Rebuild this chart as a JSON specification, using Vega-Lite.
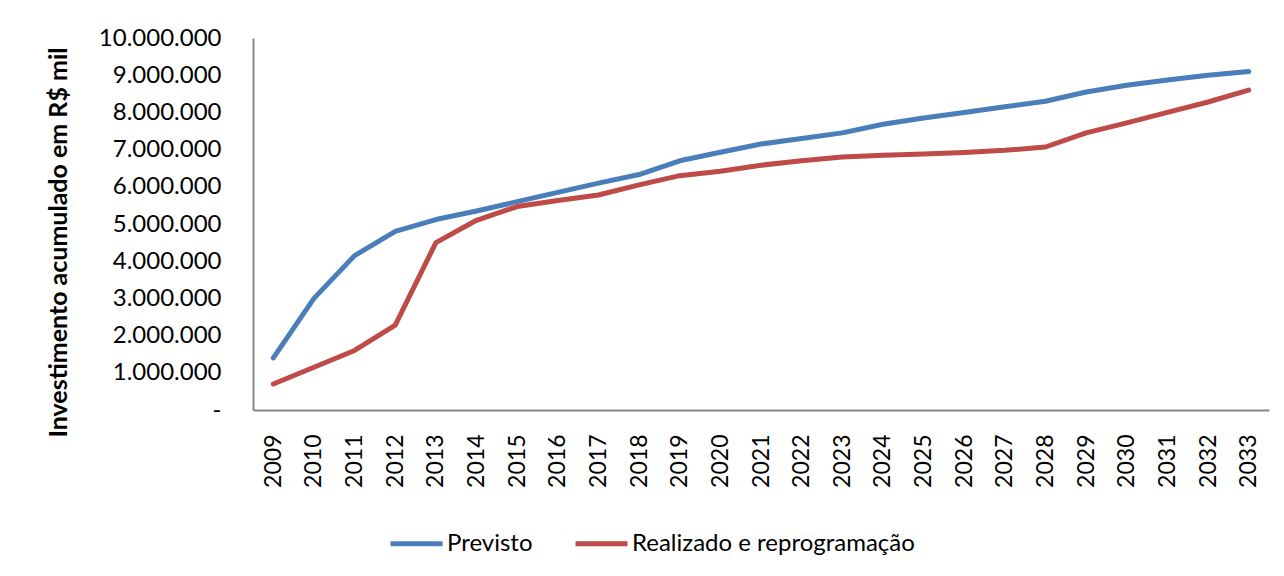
{
  "$schema": "https://vega.github.io/schema/vega-lite/v6.json",
  "width": 1016,
  "height": 372,
  "autosize": {"type": "none"},
  "padding": {"left": 253, "top": 38, "right": 15, "bottom": 166},
  "background": "white",
  "config": {
    "view": {"stroke": null},
    "font": "Lato"
  },
  "data": {
    "values": [
      {"ano": "2009", "serie": "Previsto", "valor": 1400000},
      {"ano": "2010", "serie": "Previsto", "valor": 3000000},
      {"ano": "2011", "serie": "Previsto", "valor": 4150000},
      {"ano": "2012", "serie": "Previsto", "valor": 4800000},
      {"ano": "2013", "serie": "Previsto", "valor": 5120000},
      {"ano": "2014", "serie": "Previsto", "valor": 5350000},
      {"ano": "2015", "serie": "Previsto", "valor": 5600000},
      {"ano": "2016", "serie": "Previsto", "valor": 5850000},
      {"ano": "2017", "serie": "Previsto", "valor": 6100000},
      {"ano": "2018", "serie": "Previsto", "valor": 6330000},
      {"ano": "2019", "serie": "Previsto", "valor": 6700000},
      {"ano": "2020", "serie": "Previsto", "valor": 6930000},
      {"ano": "2021", "serie": "Previsto", "valor": 7150000},
      {"ano": "2022", "serie": "Previsto", "valor": 7300000},
      {"ano": "2023", "serie": "Previsto", "valor": 7450000},
      {"ano": "2024", "serie": "Previsto", "valor": 7680000},
      {"ano": "2025", "serie": "Previsto", "valor": 7850000},
      {"ano": "2026", "serie": "Previsto", "valor": 8000000},
      {"ano": "2027", "serie": "Previsto", "valor": 8150000},
      {"ano": "2028", "serie": "Previsto", "valor": 8300000},
      {"ano": "2029", "serie": "Previsto", "valor": 8550000},
      {"ano": "2030", "serie": "Previsto", "valor": 8730000},
      {"ano": "2031", "serie": "Previsto", "valor": 8870000},
      {"ano": "2032", "serie": "Previsto", "valor": 9000000},
      {"ano": "2033", "serie": "Previsto", "valor": 9100000},
      {"ano": "2009", "serie": "Realizado e reprogramação", "valor": 700000},
      {"ano": "2010", "serie": "Realizado e reprogramação", "valor": 1150000},
      {"ano": "2011", "serie": "Realizado e reprogramação", "valor": 1600000},
      {"ano": "2012", "serie": "Realizado e reprogramação", "valor": 2280000},
      {"ano": "2013", "serie": "Realizado e reprogramação", "valor": 4500000},
      {"ano": "2014", "serie": "Realizado e reprogramação", "valor": 5100000},
      {"ano": "2015", "serie": "Realizado e reprogramação", "valor": 5470000},
      {"ano": "2016", "serie": "Realizado e reprogramação", "valor": 5630000},
      {"ano": "2017", "serie": "Realizado e reprogramação", "valor": 5780000},
      {"ano": "2018", "serie": "Realizado e reprogramação", "valor": 6050000},
      {"ano": "2019", "serie": "Realizado e reprogramação", "valor": 6300000},
      {"ano": "2020", "serie": "Realizado e reprogramação", "valor": 6420000},
      {"ano": "2021", "serie": "Realizado e reprogramação", "valor": 6580000},
      {"ano": "2022", "serie": "Realizado e reprogramação", "valor": 6700000},
      {"ano": "2023", "serie": "Realizado e reprogramação", "valor": 6800000},
      {"ano": "2024", "serie": "Realizado e reprogramação", "valor": 6850000},
      {"ano": "2025", "serie": "Realizado e reprogramação", "valor": 6880000},
      {"ano": "2026", "serie": "Realizado e reprogramação", "valor": 6920000},
      {"ano": "2027", "serie": "Realizado e reprogramação", "valor": 6980000},
      {"ano": "2028", "serie": "Realizado e reprogramação", "valor": 7070000},
      {"ano": "2029", "serie": "Realizado e reprogramação", "valor": 7450000},
      {"ano": "2030", "serie": "Realizado e reprogramação", "valor": 7720000},
      {"ano": "2031", "serie": "Realizado e reprogramação", "valor": 8000000},
      {"ano": "2032", "serie": "Realizado e reprogramação", "valor": 8280000},
      {"ano": "2033", "serie": "Realizado e reprogramação", "valor": 8600000}
    ]
  },
  "mark": {"type": "line", "strokeWidth": 5, "strokeCap": "round", "strokeJoin": "round"},
  "encoding": {
    "x": {
      "field": "ano", "type": "ordinal",
      "scale": {"type": "point", "padding": 0.5},
      "axis": {
        "title": null, "labelAngle": 270, "ticks": false, "grid": false,
        "domainColor": "#868686", "domainWidth": 2,
        "labelFont": "Lato", "labelFontSize": 23, "labelColor": "black", "labelPadding": 24
      }
    },
    "y": {
      "field": "valor", "type": "quantitative",
      "scale": {"domain": [0, 10000000], "nice": false},
      "axis": {
        "title": "Investimento acumulado em R$ mil",
        "titleFont": "Lato", "titleFontSize": 25, "titleFontWeight": "bold", "titleColor": "black",
        "titlePadding": 27, "titleY": 204,
        "values": [0, 1000000, 2000000, 3000000, 4000000, 5000000, 6000000, 7000000, 8000000, 9000000, 10000000],
        "format": ",d",
        "labelExpr": "datum.value === 0 ? '-' : replace(format(datum.value, ',d'), /,/g, '.')",
        "ticks": false, "grid": false,
        "domainColor": "#868686", "domainWidth": 2,
        "labelFont": "Lato", "labelFontSize": 24, "labelColor": "black", "labelPadding": 32
      }
    },
    "color": {
      "field": "serie", "type": "nominal",
      "scale": {"domain": ["Previsto", "Realizado e reprogramação"], "range": ["#4A7EBB", "#BE4B48"]},
      "legend": {
        "title": null, "orient": "none", "direction": "horizontal",
        "legendX": 135, "legendY": 477,
        "symbolType": "stroke", "symbolSize": 2704, "symbolStrokeWidth": 5,
        "labelFont": "Lato", "labelFontSize": 24, "labelColor": "black", "labelLimit": 500,
        "labelOffset": 2, "columnPadding": 32
      }
    }
  }
}
